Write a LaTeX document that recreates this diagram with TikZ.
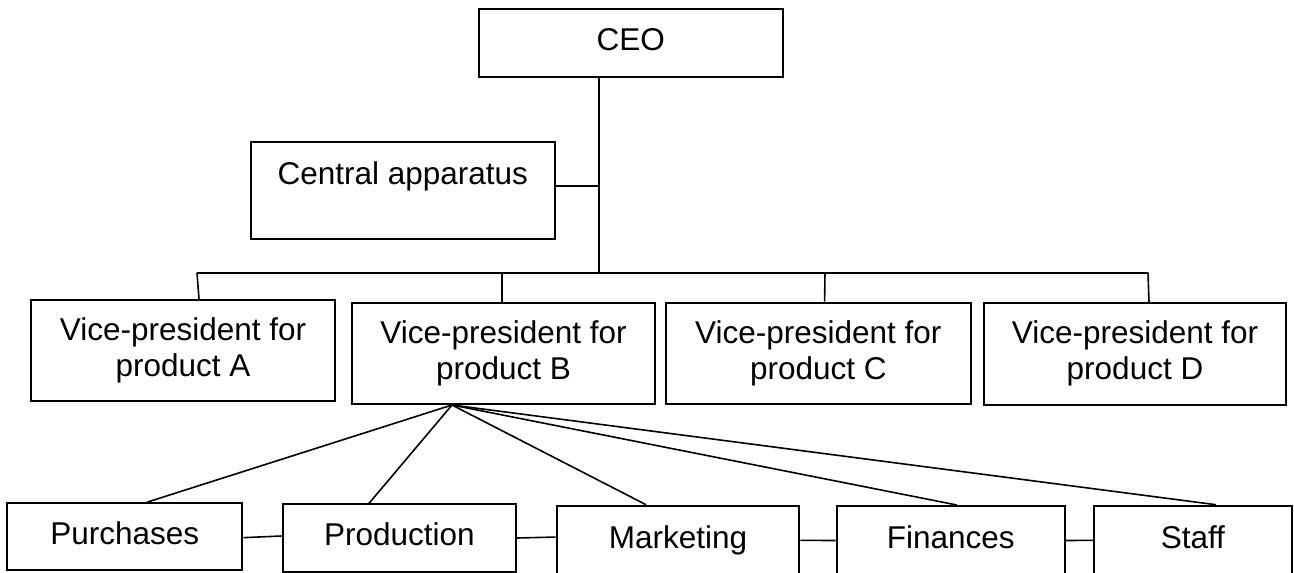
\documentclass[tikz,border=0pt]{standalone}
\usepackage{fontspec}
\setmainfont{Liberation Sans}
\begin{document}
\begin{tikzpicture}[x=1pt,y=-1pt,
  box/.style={draw, line width=2pt, inner sep=0pt, align=center,
    font=\fontsize{31.5}{36}\selectfont},
  onebox/.style={box, text height=23.6pt, text depth=7.9pt},
  conn/.style={line width=1.6pt}]
\clip (0,0) rectangle (1294,573);
% top
\node[onebox, minimum width=304.4pt, minimum height=67.4pt] (CEO) at (630.8,43) {CEO};
\node[box, minimum width=303.5pt, minimum height=97.3pt] (CA) at (402.75,190.65) {Central apparatus\\\mbox{}};
% vice presidents
\node[box, minimum width=304pt, minimum height=100.7pt] (A) at (183,350.35) {Vice-president for\\product A};
\node[box, minimum width=303pt, minimum height=101.3pt] (B) at (503.5,353.35) {Vice-president for\\product B};
\node[box, minimum width=305.4pt, minimum height=101.3pt] (C) at (818.3,353.35) {Vice-president for\\product C};
\node[box, minimum width=302pt, minimum height=101.5pt] (D) at (1135,353.75) {Vice-president for\\product D};
% departments
\node[onebox, minimum width=235pt, minimum height=66.7pt] (P1) at (124.8,536.65) {Purchases};
\node[onebox, minimum width=233.3pt, minimum height=67.4pt] (P2) at (399.35,538) {Production};
\node[onebox, minimum width=242.6pt, minimum height=69.3pt] (M) at (678,540.35) {Marketing};
\node[onebox, minimum width=228.3pt, minimum height=69pt] (F) at (950.85,540.5) {Finances};
\node[onebox, minimum width=197.7pt, minimum height=69.3pt] (S) at (1192.85,540.35) {Staff};
% bus coordinates
\coordinate (busM) at (599,272.7);
\coordinate (busL) at (197,272.7);
\coordinate (busB) at (502,272.7);
\coordinate (busC) at (825,272.7);
\coordinate (busR) at (1148,272.7);
\coordinate (hub) at ([xshift=-51.5pt]B.south);
% connectors
\draw[conn] ([xshift=-31.8pt]CEO.south) -- (busM);
\draw[conn] ([yshift=4.65pt]CA.east) -- ([yshift=4.65pt]CA.east -| busM);
\draw[conn] (busL) -- (busR);
\draw[conn] (busL) -- ([xshift=16pt]A.north);
\draw[conn] (busB) -- ([xshift=-1.5pt]B.north);
\draw[conn] (busC) -- ([xshift=6.3pt]C.north);
\draw[conn] (busR) -- ([xshift=14pt]D.north);
\draw[conn] (hub) -- ([xshift=21.9pt]P1.north);
\draw[conn] (hub) -- ([xshift=-30.3pt]P2.north);
\draw[conn] (hub) -- ([xshift=-32pt]M.north);
\draw[conn] (hub) -- ([xshift=6pt]F.north);
\draw[conn] (hub) -- ([xshift=23pt]S.north);
\draw[conn] ([yshift=-1pt]P1.east) -- ([yshift=2pt]P2.west);
\draw[conn] (P2.east) -- ([yshift=3.3pt]M.west);
\draw[conn] (M.east) -- (F.west);
\draw[conn] (F.east) -- (S.west);
\end{tikzpicture}
\end{document}
